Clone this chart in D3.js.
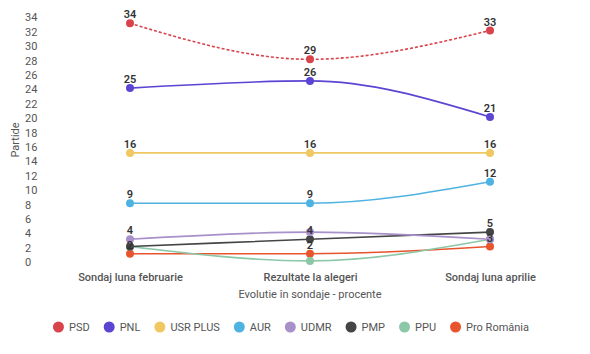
<!DOCTYPE html>
<html><head><meta charset="utf-8">
<script src="https://cdn.jsdelivr.net/npm/d3@7/dist/d3.min.js"></script>
<style>body{margin:0;background:#fff;font-family:Roboto,"Noto Sans",sans-serif;}</style>
</head><body><svg id="c" width="590" height="354"></svg>
<script>
const categories = ["Sondaj luna februarie", "Rezultate la alegeri", "Sondaj luna aprilie"];
const seriesNames = ["PSD", "PNL", "USR PLUS", "AUR", "UDMR", "PMP", "PPU", "Pro România"];
const seriesColors = ["#d9434b", "#5b45d3", "#f0c862", "#4fb3e2", "#a890ca", "#454545", "#8cc7a8", "#e7542d"];
const psd = [34, 29, 33];
const pnl = [25, 26, 21];
const usr = [16, 16, 16];
const aur = [9, 9, 12];
const udmr = [4, 5, 4];
const pmp = [3, 4, 5];
const ppu = [3, 1, 4];
const proRomania = [2, 2, 3];
// visible data labels (null = hidden by overlap)
const shownLabels = [
  [true, true, true], [true, true, true], [true, true, true], [true, true, true],
  [true, false, false], [false, true, true], [false, false, false], [true, true, true]
];
const yTicks = d3.range(0, 35, 2);
const xTitle = "Evolutie în sondaje - procente";
const yTitle = "Partide";

const series = [psd, pnl, usr, aur, udmr, pmp, ppu, proRomania];
const svg = d3.select("#c");
const x = d3.scalePoint().domain(categories).range([130, 490]);
const y = d3.scaleLinear().domain([0, 34]).range([268.1, 23.3]);

// y axis tick labels (offset upward as in reference)
const yAxis = d3.axisLeft(y).tickValues(yTicks).tickSize(0).tickPadding(0);
const ga = svg.append("g").attr("transform", "translate(25,0)").call(yAxis);
ga.select(".domain").remove();
ga.selectAll("text").attr("text-anchor", "start").attr("x", 0).attr("dy", null)
  .attr("y", -6).attr("dominant-baseline", "central")
  .attr("fill", "#555").style("font-size", "11px").style("font-family", "Roboto,sans-serif");

// x axis labels
const xAxis = d3.axisBottom(x).tickSize(0).tickPadding(0);
const gx = svg.append("g").attr("transform", "translate(0,277.5)").call(xAxis);
gx.select(".domain").remove();
gx.selectAll("text").attr("dy", null).attr("y", 0).attr("dominant-baseline", "central")
  .attr("fill", "#555").style("font-size", "11px").style("font-weight", "500").style("font-family", "Roboto,sans-serif");

svg.append("text").attr("x", 310).attr("y", 294.5).attr("text-anchor", "middle")
  .attr("dominant-baseline", "central").attr("fill", "#555").style("font-size", "11px").text(xTitle);
svg.append("text").attr("transform", "translate(15,140) rotate(-90)").attr("text-anchor", "middle")
  .attr("dominant-baseline", "central").attr("fill", "#555").style("font-size", "11px").text(yTitle);

const line = d3.line().x((d, i) => x(categories[i])).y(d => y(d)).curve(d3.curveMonotoneX);

// draw from last to first so PSD/PNL on top
const order = d3.range(series.length).reverse();
order.forEach(si => {
  svg.append("path").datum(series[si]).attr("d", line).attr("fill", "none")
    .attr("stroke", seriesColors[si]).attr("stroke-width", si === 0 ? 1.6 : 1.6)
    .attr("stroke-dasharray", si === 0 ? "3,2" : null);
});
order.forEach(si => {
  svg.append("g").selectAll("circle").data(series[si]).join("circle")
    .attr("cx", (d, i) => x(categories[i])).attr("cy", d => y(d)).attr("r", 4)
    .attr("fill", seriesColors[si]);
});
order.forEach(si => {
  svg.append("g").selectAll("text").data(series[si].map((v, i) => ({v, i})).filter(d => shownLabels[si][d.i])).join("text")
    .attr("x", d => x(categories[d.i])).attr("y", d => y(d.v) - 8.5)
    .attr("text-anchor", "middle").attr("dominant-baseline", "central")
    .attr("fill", "#333").style("font-size", "11px").style("font-weight", "600")
    .text(d => d.v);
});

// legend
const lg = svg.append("g");
let cx = 0;
const items = [];
seriesNames.forEach((n, i) => {
  const g = lg.append("g");
  g.append("circle").attr("cx", 5.5).attr("cy", 0).attr("r", 5.5).attr("fill", seriesColors[i]);
  const t = g.append("text").attr("x", 16).attr("y", 0).attr("dominant-baseline", "central")
    .attr("fill", "#555").style("font-size", "11px").text(n);
  const w = 16 + t.node().getComputedTextLength();
  g.attr("transform", `translate(${cx},0)`);
  cx += w + 14;
});
const total = cx - 14;
lg.attr("transform", `translate(${291 - total / 2},327)`);
</script></body></html>
